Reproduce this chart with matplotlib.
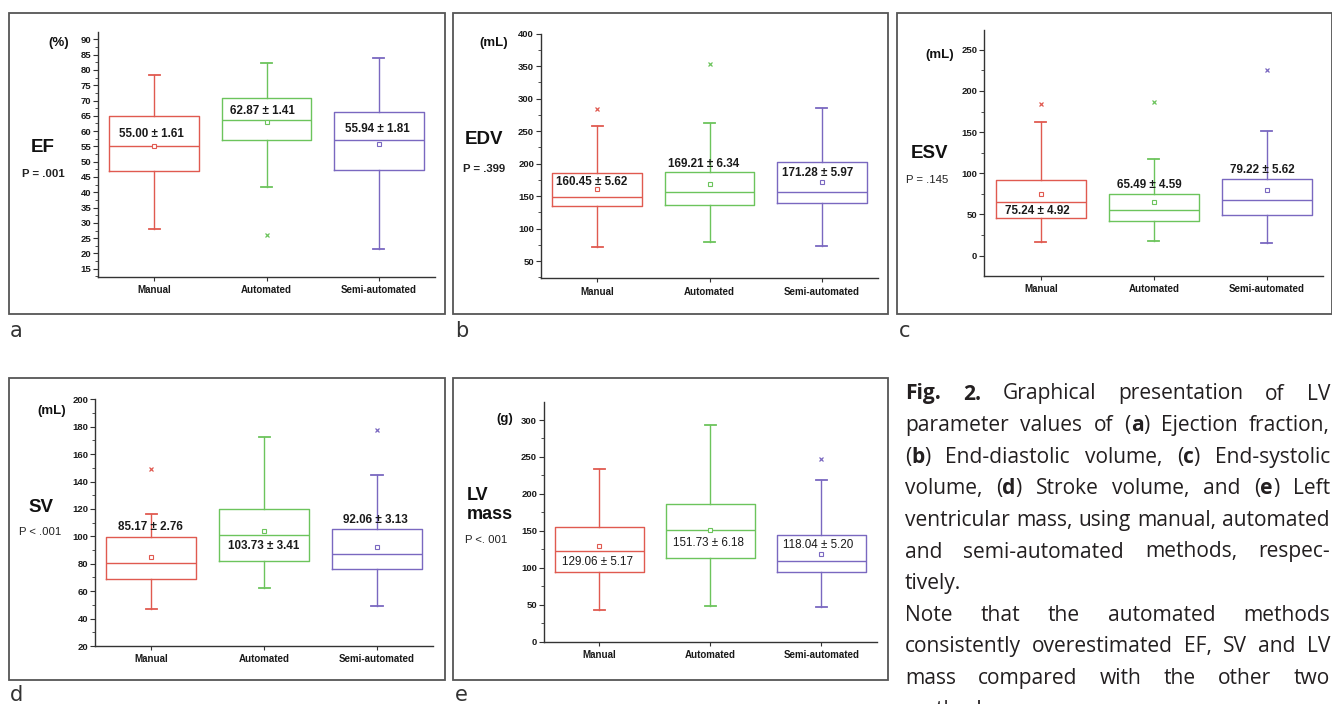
import re
import numpy as np
import matplotlib
matplotlib.use('Agg')
import matplotlib.pyplot as plt
from matplotlib.patches import Rectangle
from matplotlib.ticker import MultipleLocator, AutoMinorLocator

W, H = 1332, 704
methods = ['Manual', 'Automated', 'Semi-automated']
colors = ['#e05a50', '#6cc45c', '#7a68c0']

# (a) EF
ef_q1 = [47.1, 57.2, 47.4]
ef_med = [55.2, 63.5, 57.2]
ef_q3 = [65.0, 70.8, 66.1]
ef_lo = [28.0, 41.8, 21.4]
ef_hi = [78.3, 82.4, 84.0]
ef_out = [[], [26.0], []]
ef_mean = [55.00, 62.87, 55.94]
ef_sem = [1.61, 1.41, 1.81]

# (b) EDV
edv_q1 = [134.7, 136.7, 139.3]
edv_med = [148.0, 155.7, 155.7]
edv_q3 = [185.0, 187.0, 202.4]
edv_lo = [72.0, 78.7, 73.5]
edv_hi = [258.0, 262.5, 285.6]
edv_out = [[284.0], [354.0], []]
edv_mean = [160.45, 169.21, 171.28]
edv_sem = [5.62, 6.34, 5.97]

# (c) ESV
esv_q1 = [46.2, 41.8, 49.4]
esv_med = [65.0, 55.2, 67.3]
esv_q3 = [92.0, 75.3, 93.6]
esv_lo = [16.2, 17.8, 15.0]
esv_hi = [162.0, 117.5, 151.2]
esv_out = [[184.0], [186.8], [224.9]]
esv_mean = [75.24, 65.49, 79.22]
esv_sem = [4.92, 4.59, 5.62]

# (d) SV
sv_q1 = [68.9, 82.0, 76.4]
sv_med = [80.5, 101.0, 87.1]
sv_q3 = [99.3, 119.7, 105.6]
sv_lo = [47.0, 62.3, 49.4]
sv_hi = [116.5, 172.7, 145.0]
sv_out = [[149.4], [], [177.6]]
sv_mean = [85.17, 103.73, 92.06]
sv_sem = [2.76, 3.41, 3.13]

# (e) LV mass
lvm_q1 = [95.0, 112.8, 93.8]
lvm_med = [122.7, 150.7, 109.2]
lvm_q3 = [154.7, 186.3, 144.8]
lvm_lo = [42.8, 48.2, 47.3]
lvm_hi = [233.7, 293.7, 219.2]
lvm_out = [[], [], [247.6]]
lvm_mean = [129.06, 151.73, 118.04]
lvm_sem = [5.17, 6.18, 5.20]

panels = [
    dict(data=(ef_q1, ef_med, ef_q3, ef_lo, ef_hi, ef_out, ef_mean, ef_sem),
         name='EF', p='P = .001', unit='(%)', letter='a', bold=True, pbold=True,
         frame=(9, 13, 445, 314), ax=(98, 32, 435, 277), ylim=(12.3, 92.4),
         major=5, minor=2, lab_x=[0.98, 1.96, 2.99], lab_y=[59.0, 66.7, 60.8],
         name_xy=(43, 148), p_xy=(43, 174), unit_xy=(59, 43), letter_xy=(10, 337)),
    dict(data=(edv_q1, edv_med, edv_q3, edv_lo, edv_hi, edv_out, edv_mean, edv_sem),
         name='EDV', p='P = .399', unit='(mL)', letter='b', bold=True, pbold=True,
         frame=(453, 13, 888, 314), ax=(541, 33.7, 878, 278.3), ylim=(23.4, 400),
         major=50, minor=2, lab_x=[0.95, 1.95, 2.96], lab_y=[171, 200, 185],
         name_xy=(484, 139), p_xy=(484, 169), unit_xy=(494, 43), letter_xy=(455, 337)),
    dict(data=(esv_q1, esv_med, esv_q3, esv_lo, esv_hi, esv_out, esv_mean, esv_sem),
         name='ESV', p='P = .145', unit='(mL)', letter='c', bold=True, pbold=False,
         frame=(897, 13, 1332, 314), ax=(984.3, 30, 1323.3, 276), ylim=(-24.7, 274),
         major=50, minor=2, lab_x=[0.97, 1.96, 2.96], lab_y=[54.7, 85.5, 104],
         name_xy=(929, 154), p_xy=(927, 180), unit_xy=(940, 55), letter_xy=(899, 337)),
    dict(data=(sv_q1, sv_med, sv_q3, sv_lo, sv_hi, sv_out, sv_mean, sv_sem),
         name='SV', p='P < .001', unit='(mL)', letter='d', bold=True, pbold=False,
         frame=(9, 378, 445, 680), ax=(95, 399.3, 433.3, 646), ylim=(20, 200),
         major=20, minor=2, lab_x=[0.99, 2.0, 2.99], lab_y=[106.6, 93, 112],
         name_xy=(41, 508), p_xy=(40, 532), unit_xy=(52, 411), letter_xy=(10, 701)),
    dict(data=(lvm_q1, lvm_med, lvm_q3, lvm_lo, lvm_hi, lvm_out, lvm_mean, lvm_sem),
         name='LV\nmass', p='P <. 001', unit='(g)', letter='e', bold=False, pbold=False,
         frame=(453, 378, 888, 680), ax=(544, 401.7, 876.7, 641.7), ylim=(0, 324.8),
         major=50, minor=2, lab_x=[0.98, 1.98, 2.97], lab_y=[108, 134, 131],
         name_xy=(467, 505), p_xy=(465, 540), unit_xy=(505, 419), letter_xy=(455, 701)),
]

plt.rcParams['font.family'] = ['Liberation Sans', 'DejaVu Sans']
fig = plt.figure(figsize=(W / 100, H / 100), dpi=100)


def fx(x):
    return x / W


def fy(y):
    return 1 - y / H


for pn in panels:
    x0, y0, x1, y1 = pn['frame']
    fig.add_artist(Rectangle((fx(x0), fy(y1)), fx(x1) - fx(x0), fy(y0) - fy(y1),
                             transform=fig.transFigure, fill=False,
                             ec='#555555', lw=1.3))
    l, t, r, b = pn['ax']
    ax = fig.add_axes([fx(l), fy(b), fx(r) - fx(l), fy(t) - fy(b)])
    q1, med, q3, lo, hi, out, mean, sem = pn['data']
    stats = []
    for i in range(3):
        stats.append(dict(q1=q1[i], med=med[i], q3=q3[i], whislo=lo[i],
                          whishi=hi[i], fliers=out[i], mean=mean[i]))
    res = ax.bxp(stats, positions=[1, 2, 3], widths=0.8, capwidths=0.1,
                 showmeans=True, patch_artist=False)
    for i, c in enumerate(colors):
        res['boxes'][i].set(color=c, lw=1.0)
        res['medians'][i].set(color=c, lw=1.0)
        for k in (2 * i, 2 * i + 1):
            res['whiskers'][k].set(color=c, lw=1.0)
            res['caps'][k].set(color=c, lw=1.3)
        res['fliers'][i].set(marker='x', markersize=3, markeredgecolor=c,
                             markeredgewidth=0.9)
        res['means'][i].set(marker='s', markersize=3, markerfacecolor='white',
                            markeredgecolor=c, markeredgewidth=0.8)
        ax.text(pn['lab_x'][i], pn['lab_y'][i],
                f'{mean[i]:.2f} \u00b1 {sem[i]:.2f}', ha='center', va='center',
                fontsize=8.4, fontweight='bold' if pn['bold'] else 'normal',
                color='#1a1a1a')

    ax.set_xlim(0.5, 3.5)
    ax.set_ylim(*pn['ylim'])
    ax.yaxis.set_major_locator(MultipleLocator(pn['major']))
    ax.yaxis.set_minor_locator(AutoMinorLocator(pn['minor']))
    ax.set_xticks([1, 2, 3])
    ax.set_xticklabels(methods)
    for s in ('top', 'right'):
        ax.spines[s].set_visible(False)
    for s in ('left', 'bottom'):
        ax.spines[s].set_color('#333333')
        ax.spines[s].set_linewidth(1.0)
    ax.tick_params(axis='y', which='major', length=3.5, width=0.8, labelsize=6.8,
                   pad=1.5, colors='#333333', labelcolor='#1a1a1a')
    ax.tick_params(axis='y', which='minor', length=2, width=0.6, colors='#333333')
    ax.tick_params(axis='x', which='major', length=3, width=0.8, labelsize=7,
                   pad=3, colors='#333333', labelcolor='#1a1a1a')
    for lab in ax.get_yticklabels() + ax.get_xticklabels():
        lab.set_fontweight('bold')
    ax.set_facecolor('none')

    wt = 'bold'
    if pn['name'] == 'LV\nmass':
        fig.text(fx(pn['name_xy'][0]), fy(pn['name_xy'][1]), pn['name'],
                 ha='left', va='center', fontsize=13, fontweight=wt,
                 linespacing=1.1, color='#111111')
        fig.text(fx(pn['p_xy'][0]), fy(pn['p_xy'][1]), pn['p'], ha='left',
                 va='center', fontsize=8.2, color='#222222')
    else:
        fig.text(fx(pn['name_xy'][0]), fy(pn['name_xy'][1]), pn['name'],
                 ha='center', va='center', fontsize=13.5, fontweight=wt,
                 color='#111111')
        fig.text(fx(pn['p_xy'][0]), fy(pn['p_xy'][1]), pn['p'], ha='center',
                 va='center', fontsize=8.2,
                 fontweight='bold' if pn['pbold'] else 'normal', color='#222222')
    fig.text(fx(pn['unit_xy'][0]), fy(pn['unit_xy'][1]), pn['unit'], ha='center',
             va='center', fontsize=9.5, fontweight='bold', color='#111111')
    fig.text(fx(pn['letter_xy'][0]), fy(pn['letter_xy'][1]), pn['letter'],
             ha='left', va='baseline', fontsize=15, family='DejaVu Sans',
             color='#333333')

# caption, justified word by word
cap_lines = [
    ('*Fig.* *2.* Graphical presentation of LV', True),
    ('parameter values of (*a*) Ejection fraction,', True),
    ('(*b*) End-diastolic volume, (*c*) End-systolic', True),
    ('volume, (*d*) Stroke volume, and (*e*) Left', True),
    ('ventricular mass, using manual, automated', True),
    ('and semi-automated methods, respec-', True),
    ('tively.', False),
    ('Note that the automated methods', True),
    ('consistently overestimated EF, SV and LV', True),
    ('mass compared with the other two', True),
    ('methods.', False),
]
cap_font = 'Open Sans'
cap_left, cap_right = 905, 1330
cap_base0, cap_step = 399.5, 31.6
cap_color = '#231f20'
renderer = fig.canvas.get_renderer()


def seg_width(s, bold, fs):
    t = fig.text(0, 0, s, fontsize=fs, family=cap_font,
                 fontweight='bold' if bold else 'normal')
    w = t.get_window_extent(renderer).width
    t.remove()
    return w


def split_word(word):
    parts = re.split(r'(\*[^*]+\*)', word)
    segs = []
    for p in parts:
        if not p:
            continue
        if p.startswith('*'):
            segs.append((p.strip('*'), True))
        else:
            segs.append((p, False))
    return segs


ref_words = cap_lines[4][0].split(' ')
n_gaps = len(ref_words) - 1
w10 = sum(seg_width(s, b, 10) for w in ref_words for s, b in split_word(w))
w10 += n_gaps * (seg_width('a a', False, 10) - seg_width('aa', False, 10))
cap_fs = 10 * (cap_right - cap_left) / w10
space = seg_width('a a', False, cap_fs) - seg_width('aa', False, cap_fs)

for k, (line, justify) in enumerate(cap_lines):
    words = [split_word(w) for w in line.split(' ')]
    widths = [[seg_width(s, b, cap_fs) for s, b in w] for w in words]
    total = sum(sum(w) for w in widths)
    if justify and len(words) > 1:
        gap = (cap_right - cap_left - total) / (len(words) - 1)
    else:
        gap = space
    x = cap_left
    yb = cap_base0 + k * cap_step
    for w, ws in zip(words, widths):
        for (s, b), sw in zip(w, ws):
            fig.text(fx(x), fy(yb), s, ha='left', va='baseline', fontsize=cap_fs,
                     family=cap_font, fontweight='bold' if b else 'normal',
                     color=cap_color)
            x += sw
        x += gap

fig.savefig('out.png', dpi=100)
